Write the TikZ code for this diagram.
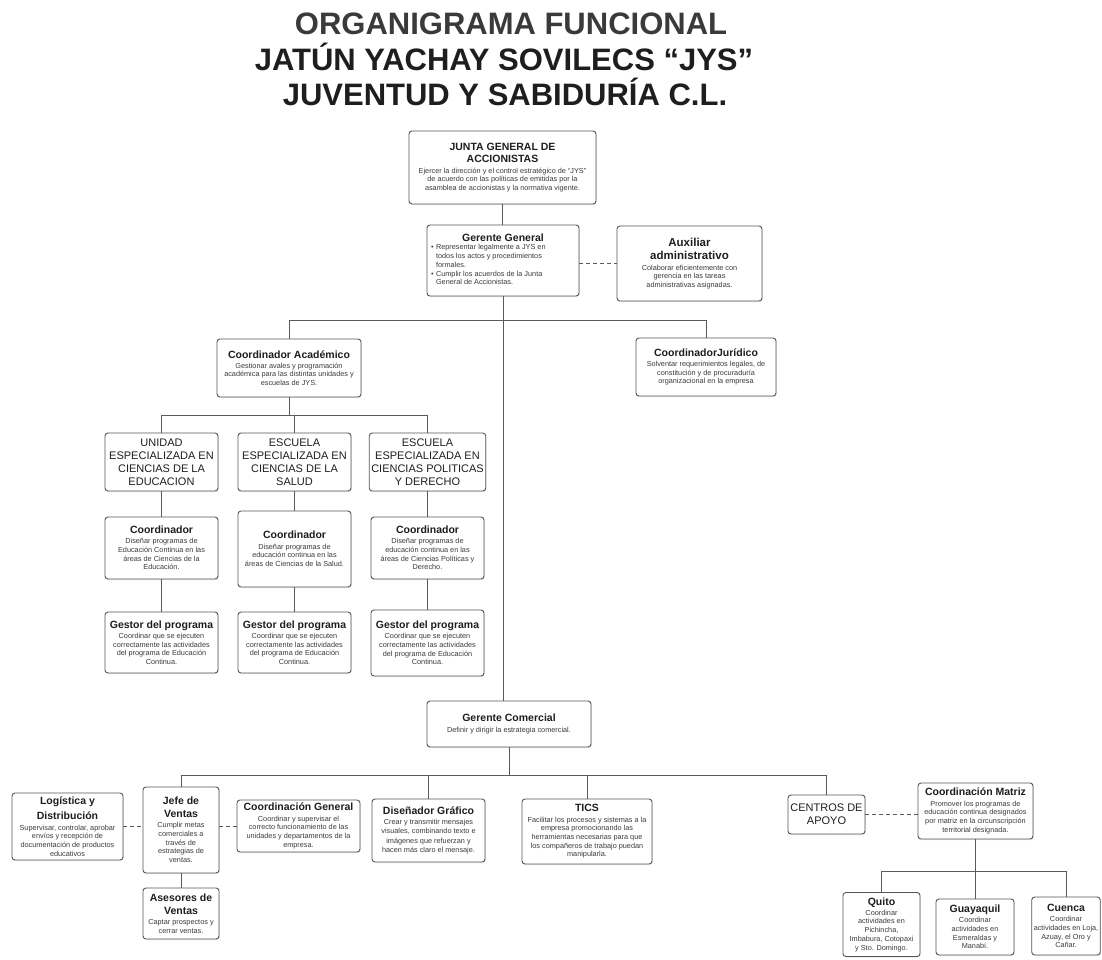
\documentclass[tikz,border=0pt]{standalone}
\usepackage{fontspec}
\setmainfont{Liberation Sans}
\usetikzlibrary{shadows}
\definecolor{bord}{HTML}{555555}
\definecolor{txt}{HTML}{1e1e1e}
\definecolor{dtxt}{HTML}{3a3a3a}
\definecolor{conn}{HTML}{5a5a5a}
\definecolor{ttlgray}{HTML}{3a3a3a}
\newcommand{\BT}{\fontsize{10.5}{12}\selectfont\bfseries\color{txt}}
\newcommand{\BTa}{\fontsize{11.5}{13}\selectfont\bfseries\color{txt}}
\newcommand{\DT}{\fontsize{7.3}{8.7}\selectfont\color{dtxt}}
\newcommand{\UT}{\fontsize{11}{13}\selectfont\color{txt}}
\tikzset{
  box/.style={draw=bord, line width=0.9pt, rounded corners=3pt, fill=white, align=center, inner sep=2pt, font=\DT,
    drop shadow={opacity=0.18, shadow xshift=0.8pt, shadow yshift=-1pt}},
  ubox/.style={box, font=\UT},
  conn/.style={draw=conn, line width=0.8pt},
  dconn/.style={conn, dash pattern=on 4pt off 3pt},
  bigttl/.style={font=\fontsize{31}{36}\selectfont\bfseries, inner sep=0pt, anchor=base},
}
\begin{document}
\begin{tikzpicture}[x=1pt, y=-1pt]
\useasboundingbox (0,0) rectangle (1102,959);

% Titles
\node[bigttl, text=ttlgray] (t1) at (511,34) {ORGANIGRAMA FUNCIONAL};
\node[bigttl, text=txt] (t2) at (504,70) {JATÚN YACHAY SOVILECS “JYS”};
\node[bigttl, text=txt] (t3) at (505,105) {JUVENTUD Y SABIDURÍA C.L.};

% Top
\node[box, minimum width=187, minimum height=73] (junta) at (502.5,167.5)
  {{\BT JUNTA GENERAL DE}\\[4pt]{\BT ACCIONISTAS}\\[1.5pt]
   Ejercer la dirección y el control estratégico de “JYS”\\
   de acuerdo con las políticas de emitidas por la\\
   asamblea de accionistas y la normativa vigente.};

\node[box, minimum width=152, minimum height=71] (gg) at (503,260.5)
  {\begin{minipage}{144pt}\centering{\BT Gerente General}\par\vspace{1.5pt}\raggedright
   \begin{tabular}{@{}l@{\hspace{2.5pt}}l@{}}
   \textbullet & Representar legalmente a JYS en\\
   & todos los actos y procedimientos\\
   & formales.\\
   \textbullet & Cumplir los acuerdos de la Junta\\
   & General de Accionistas.
   \end{tabular}\end{minipage}};

\node[box, minimum width=145, minimum height=75] (aux) at (689.5,263.5)
  {{\BTa Auxiliar}\\[4.5pt]{\BTa administrativo}\\[2pt]
   Colaborar eficientemente con\\
   gerencia en las tareas\\
   administrativas asignadas.};

% Academic branch
\node[box, minimum width=144, minimum height=58] (ca) at (289,368)
  {{\BT Coordinador Académico}\\[1.5pt]
   Gestionar avales y programación\\
   académica para las distintas unidades y\\
   escuelas de JYS.};

\node[box, minimum width=140, minimum height=58] (cj) at (706,367)
  {{\BT CoordinadorJurídico}\\[1.5pt]
   Solventar requerimientos legales, de\\
   constitución y de procuraduría\\
   organizacional en la empresa};

\node[ubox, minimum width=113, minimum height=58] (u1) at (161.5,462)
  {UNIDAD\\ESPECIALIZADA EN\\CIENCIAS DE LA\\EDUCACION};
\node[ubox, minimum width=113, minimum height=58] (u2) at (294.5,462)
  {ESCUELA\\ESPECIALIZADA EN\\CIENCIAS DE LA\\SALUD};
\node[ubox, minimum width=113, minimum height=58] (u3) at (427.5,462)
  {ESCUELA\\ESPECIALIZADA EN\\CIENCIAS POLITICAS\\Y DERECHO};

\node[box, minimum width=113, minimum height=62] (c1) at (161.5,548)
  {{\BT Coordinador}\\[1.5pt]
   Diseñar programas de\\
   Educación Continua en las\\
   áreas de Ciencias de la\\
   Educación.};
\node[box, minimum width=113, minimum height=76] (c2) at (294.5,549)
  {{\BT Coordinador}\\[1.5pt]
   Diseñar programas de\\
   educación continua en las\\
   áreas de Ciencias de la Salud.};
\node[box, minimum width=113, minimum height=62] (c3) at (427.5,548)
  {{\BT Coordinador}\\[1.5pt]
   Diseñar programas de\\
   educación continua en las\\
   áreas de Ciencias Políticas y\\
   Derecho.};

\node[box, minimum width=113, minimum height=61] (g1) at (161.5,642.5)
  {{\BT Gestor del programa}\\[1.5pt]
   Coordinar que se ejecuten\\
   correctamente las actividades\\
   del programa de Educación\\
   Continua.};
\node[box, minimum width=113, minimum height=61] (g2) at (294.5,642.5)
  {{\BT Gestor del programa}\\[1.5pt]
   Coordinar que se ejecuten\\
   correctamente las actividades\\
   del programa de Educación\\
   Continua.};
\node[box, minimum width=113, minimum height=66] (g3) at (427.5,643)
  {{\BT Gestor del programa}\\[1.5pt]
   Coordinar que se ejecuten\\
   correctamente las actividades\\
   del programa de Educación\\
   Continua.};

% Commercial branch
\node[box, minimum width=164, minimum height=46] (gc) at (509,724)
  {{\BT Gerente Comercial}\\[1.5pt]
   Definir y dirigir la estrategia comercial.};

\node[box, minimum width=111, minimum height=67] (log) at (67.5,826.5)
  {{\BT Logística y}\\[4.5pt]{\BT Distribución}\\[1.5pt]
   Supervisar, controlar, aprobar\\
   envíos y recepción de\\
   documentación de productos\\
   educativos};

\node[box, minimum width=76, minimum height=86] (jv) at (181,830)
  {{\BT Jefe de}\\[4pt]{\BT Ventas}\\[1.5pt]
   Cumplir metas\\
   comerciales a\\
   través de\\
   estrategias de\\
   ventas.};

\node[box, minimum width=76, minimum height=51] (as) at (181,913.5)
  {{\BT Asesores de}\\[4pt]{\BT Ventas}\\[1.5pt]
   Captar prospectos y\\
   cerrar ventas.};

\node[box, minimum width=123, minimum height=52] (cg) at (298.5,826)
  {{\BT Coordinación General}\\[1.5pt]
   Coordinar y supervisar el\\
   correcto funcionamiento de las\\
   unidades y departamentos de la\\
   empresa.};

\node[box, minimum width=113, minimum height=63] (dg) at (428.5,830.5)
  {{\BT Diseñador Gráfico}\\[1.5pt]
   Crear y transmitir mensajes\\[0.8pt]
   visuales, combinando texto e\\[0.8pt]
   imágenes que refuerzan y\\[0.8pt]
   hacen más claro el mensaje.};

\node[box, minimum width=130, minimum height=65] (tics) at (587,831.5)
  {{\BT TICS}\\[1.5pt]
   Facilitar los procesos y sistemas a la\\
   empresa promocionando las\\
   herramientas necesarias para que\\
   los compañeros de trabajo puedan\\
   manipularla.};

\node[ubox, minimum width=77, minimum height=39] (cen) at (826.5,814.5)
  {CENTROS DE\\APOYO};

\node[box, minimum width=115, minimum height=56] (cm) at (975.5,811)
  {{\BT Coordinación Matriz}\\[1.5pt]
   Promover los programas de\\
   educación continua designados\\
   por matriz en la circunscripción\\
   territorial designada.};

\node[box, minimum width=77, minimum height=64] (qu) at (881.5,924.5)
  {{\BT Quito}\\[1.5pt]
   Coordinar\\
   actividades en\\
   Pichincha,\\
   Imbabura, Cotopaxi\\
   y Sto. Domingo.};
\node[box, minimum width=78, minimum height=56] (gy) at (975,927)
  {{\BT Guayaquil}\\[1.5pt]
   Coordinar\\
   actividades en\\
   Esmeraldas y\\
   Manabí.};
\node[box, minimum width=68, minimum height=58] (cu) at (1066,926)
  {{\BT Cuenca}\\[1.5pt]
   Coordinar\\
   actividades en Loja,\\
   Azuay, el Oro y\\
   Cañar.};

% helper coordinates
\coordinate (hA) at (503,320);
\coordinate (hB) at (289,415);
\coordinate (hC) at (509,775);
\coordinate (hD) at (976,871);

% connectors
\draw[conn] (junta.south) -- (junta.south |- gg.north);
\draw[dconn] (gg.east |- aux.west) -- (aux.west);
\draw[conn] (gg.south) -- (gg.south |- gc.north);
\draw[conn] (ca.north) -- (ca.north |- hA) -- (cj.north |- hA) -- (cj.north);
\draw[conn] (ca.south) -- (ca.south |- hB);
\draw[conn] (u1.north) -- (u1.north |- hB) -- (u3.north |- hB) -- (u3.north);
\draw[conn] (u2.north) -- (u2.north |- hB);
\foreach \i in {1,2,3} {
  \draw[conn] (u\i.south) -- (c\i.north);
  \draw[conn] (c\i.south) -- (g\i.north);
}
\draw[conn] (gc.south) -- (gc.south |- hC);
\draw[conn] (jv.north) -- (jv.north |- hC) -- (cen.north |- hC) -- (cen.north);
\draw[conn] (dg.north) -- (dg.north |- hC);
\draw[conn] (tics.north) -- (tics.north |- hC);
\draw[conn] (jv.south) -- (as.north);
\draw[dconn] (log.east) -- (log.east -| jv.west);
\draw[dconn] (jv.east |- cg.west) -- (cg.west);
\draw[dconn] (cen.east) -- (cen.east -| cm.west);
\draw[conn] (cm.south) -- (cm.south |- hD);
\draw[conn] (qu.north) -- (qu.north |- hD) -- (cu.north |- hD) -- (cu.north);
\draw[conn] (gy.north) -- (gy.north |- hD);
\end{tikzpicture}
\end{document}
